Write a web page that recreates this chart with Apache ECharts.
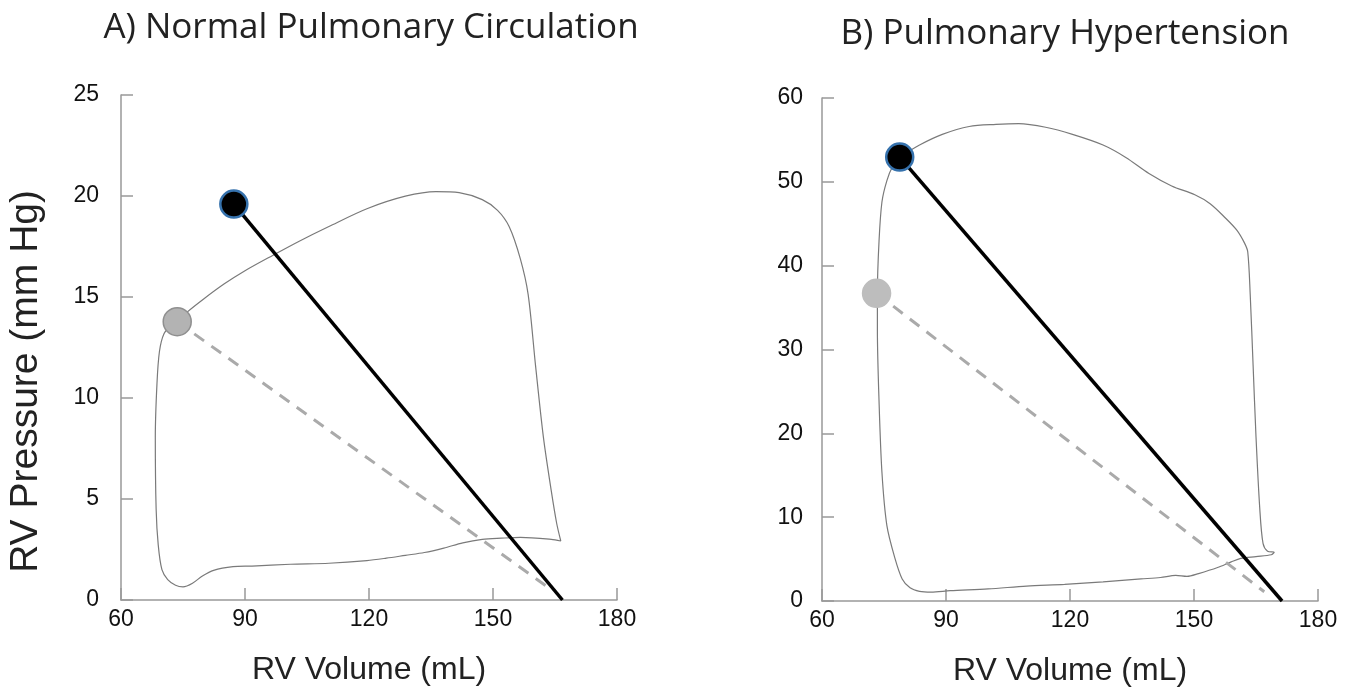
<!DOCTYPE html>
<html>
<head>
<meta charset="utf-8">
<title>RV pressure-volume loops</title>
<script src="https://cdn.jsdelivr.net/npm/echarts@6/dist/echarts.min.js"></script>
<style>
html,body{margin:0;padding:0;background:#fff;}
#main{width:1362px;height:696px;}
</style>
</head>
<body>
<div id="main"></div>
<script>
// A) normal loop, [volume, pressure]
var loopA = [
	[73.6,13.78],[76,14.25],[80,14.9],[85,15.65],[90,16.3],[96.8,17.07],[103,17.75],[110.3,18.49],
	[119.5,19.37],[128.8,19.99],[136.2,20.22],[141.8,20.17],[147.4,19.82],[151.1,19.29],[153.9,18.49],
	[156.6,16.9],[158.5,15.13],[160.3,11.59],[162.2,8.05],[164.1,5.4],[165.4,3.8],[166.4,2.92],
	[164.1,3.0],[156.6,3.1],[152.0,3.06],[147.4,3.0],[142.7,2.83],[138.1,2.57],[133.4,2.35],[128.8,2.21],
	[124.2,2.07],[119.5,1.95],[110.3,1.82],[101.0,1.77],[91.7,1.68],[87.1,1.65],[82.4,1.47],[79.7,1.19],
	[77.3,0.83],[75.0,0.65],[73.2,0.73],[71.3,1.01],[69.9,1.5],[69.0,2.74],[68.5,4.5],[68.3,8.05],
	[68.7,10.7],[69.3,12.3],[70.4,13.18],[72.2,13.6],[73.6,13.78]
];
var emaxA = [[87.3,19.6],[166.8,0]];
var eaA = [[73.6,13.78],[164.2,0.5]];

// B) pulmonary hypertension loop
var loopB = [
	[78.8,52.95],[83.6,54.39],[89.1,55.66],[95.6,56.6],[102.1,56.85],[107.6,56.94],[114.1,56.51],
	[120.6,55.66],[128.0,54.39],[133.5,52.91],[139.1,51.0],[144.6,49.51],[150.2,48.45],[153.9,47.39],
	[157.6,45.69],[160.4,44.21],[162.2,42.72],[163.0,41.66],[163.6,36.57],[164.3,28.09],[165.0,19.6],
	[165.9,11.12],[166.7,6.87],[167.8,5.94],[169.4,5.81],[168.7,5.52],[165.0,5.3],[161.3,5.09],
	[159.0,4.67],[155.7,3.99],[151.1,3.27],[148.3,2.93],[145.6,3.05],[141.9,2.8],[137.2,2.63],
	[128.0,2.29],[118.7,1.99],[109.5,1.78],[100.2,1.44],[91.0,1.23],[86.4,1.06],[83.6,1.15],
	[81.3,1.57],[79.4,2.63],[77.6,5.18],[75.7,8.99],[74.5,15.36],[73.8,23.84],[73.4,32.33],
	[73.4,36.7],[73.8,42.94],[74.5,47.6],[75.7,50.15],[77.1,51.85],[78.8,52.95]
];
var emaxB = [[78.8,52.95],[171.3,0]];
var eaB = [[73.2,36.7],[167,1.1]];

var xTicks = [60,90,120,150,180];
var yTicksA = [0,5,10,15,20,25];
var yTicksB = [0,10,20,30,40,50,60];

var chart = echarts.init(document.getElementById('main'));

function valAxis(grid, min, max, step, name, nameGap, margin){
	return {
		type:'value', gridIndex:grid, min:min, max:max, interval:step,
		name:name, nameLocation:'middle', nameGap:nameGap,
		nameTextStyle:{fontFamily:'Liberation Sans', fontSize:32, color:'#222'},
		axisLine:{show:true, lineStyle:{color:'#999', width:1.5}},
		axisTick:{show:true, inside:true, length:12, lineStyle:{color:'#999', width:1.5}},
		axisLabel:{fontFamily:'Liberation Sans', fontSize:23, color:'#111', margin:margin},
		splitLine:{show:false}
	};
}

// 回路、Emax线、Ea线
function loopSeries(idx, data){
	return {type:'line', xAxisIndex:idx, yAxisIndex:idx, data:data, showSymbol:false, smooth:0.3,
		lineStyle:{color:'#7a7a7a', width:1.2}, silent:true, z:2};
}
function eaSeries(idx, data, dotColor, dotBorder){
	return {type:'line', xAxisIndex:idx, yAxisIndex:idx, data:data, symbol:'none',
		lineStyle:{color:'#aaaaaa', width:3, type:[12,9]}, silent:true, z:3,
		markPoint:{symbol:'circle', symbolSize:28, silent:true, label:{show:false},
			itemStyle:{color:dotColor, borderColor:dotBorder, borderWidth:1.5},
			data:[{coord:data[0]}]}};
}
function emaxSeries(idx, data){
	return {type:'line', xAxisIndex:idx, yAxisIndex:idx, data:data, symbol:'none',
		lineStyle:{color:'#000', width:3.5}, silent:true, z:4,
		markPoint:{symbol:'circle', symbolSize:27, silent:true, label:{show:false},
			itemStyle:{color:'#000', borderColor:'#3672ad', borderWidth:2.5},
			data:[{coord:data[0]}]}};
}

var option = {
	backgroundColor:'#fff',
	animation:false,
	title:[
		{text:'A) Normal Pulmonary Circulation', left:366, top:6, textAlign:'center',
			textStyle:{fontFamily:'Open Sans', fontSize:35, fontWeight:'normal', color:'#222'}},
		{text:'B) Pulmonary Hypertension', left:1060, top:12, textAlign:'center',
			textStyle:{fontFamily:'Open Sans', fontSize:35, fontWeight:'normal', color:'#222'}}
	],
	graphic:[
		{type:'text', left:7, top:190, rotation:Math.PI/2,
			style:{text:'RV Pressure (mm Hg)', fontFamily:'Liberation Sans', fontSize:39, fill:'#222'}}
	],
	grid:[
		{left:121, top:95, width:496, height:505},
		{left:822, top:98, width:496, height:503}
	],
	xAxis:[
		valAxis(0, xTicks[0], xTicks[xTicks.length-1], 30, 'RV Volume (mL)', 54, 8),
		valAxis(1, xTicks[0], xTicks[xTicks.length-1], 30, 'RV Volume (mL)', 54, 8)
	],
	yAxis:[
		valAxis(0, yTicksA[0], yTicksA[yTicksA.length-1], 5, '', 40, 22),
		valAxis(1, yTicksB[0], yTicksB[yTicksB.length-1], 10, '', 40, 19)
	],
	series:[
		loopSeries(0, loopA),
		eaSeries(0, eaA, '#b3b3b3', '#8f8f8f'),
		emaxSeries(0, emaxA),
		loopSeries(1, loopB),
		eaSeries(1, eaB, '#bdbdbd', '#bdbdbd'),
		emaxSeries(1, emaxB)
	]
};
chart.setOption(option);
</script>
</body>
</html>
